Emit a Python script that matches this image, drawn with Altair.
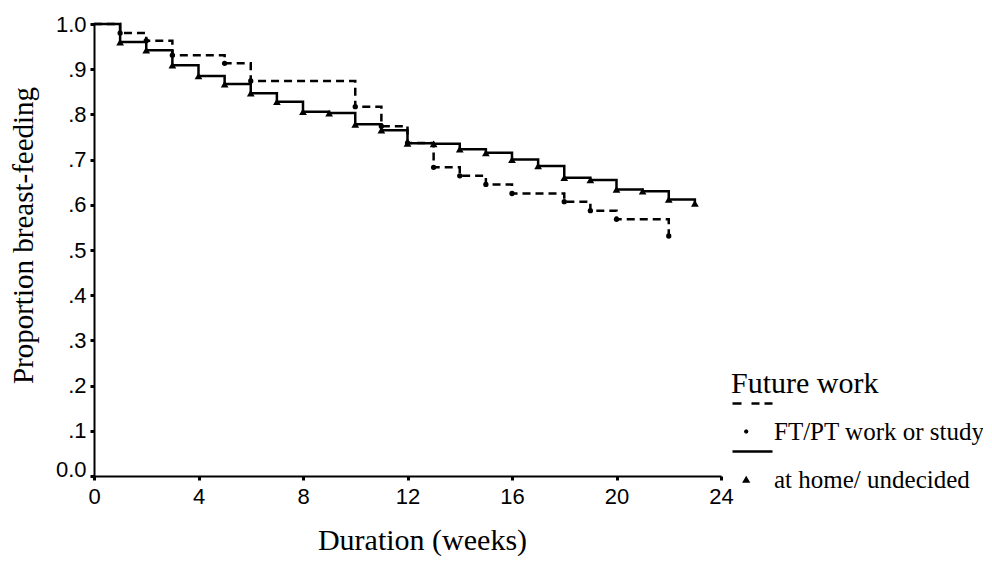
import altair as alt
import pandas as pd

# ---- data ----
groups = ["FT/PT work or study", "at home/ undecided"]

weeks_home = [0, 1, 2, 3, 4, 5, 6, 7, 8, 9, 10, 11, 12, 13, 14, 15, 16, 17, 18, 19, 20, 21, 22, 23]
surv_home = [1.0, 0.960, 0.942, 0.909, 0.885, 0.867, 0.847, 0.828, 0.806, 0.803, 0.778, 0.765,
             0.736, 0.735, 0.723, 0.715, 0.700, 0.686, 0.660, 0.655, 0.634, 0.630, 0.612, 0.603]

weeks_work = [0, 1, 2, 3, 5, 6, 10, 11, 12, 13, 14, 15, 16, 18, 19, 20, 22]
surv_work = [1.0, 0.980, 0.963, 0.931, 0.913, 0.874, 0.817, 0.774, 0.737, 0.683, 0.664, 0.645,
             0.625, 0.607, 0.587, 0.568, 0.531]

x_ticks = [0, 4, 8, 12, 16, 20, 24]
y_ticks = [0.0, 0.1, 0.2, 0.3, 0.4, 0.5, 0.6, 0.7, 0.8, 0.9, 1.0]
y_tick_labels = ["0.0", ".1", ".2", ".3", ".4", ".5", ".6", ".7", ".8", ".9", "1.0"]

df = pd.concat([
    pd.DataFrame({"week": weeks_work, "prop": surv_work, "group": groups[0]}),
    pd.DataFrame({"week": weeks_home, "prop": surv_home, "group": groups[1]}),
], ignore_index=True)

label_array = "[" + ",".join("'%s'" % s for s in y_tick_labels) + "]"

SERIF = "Liberation Serif"
SANS = "Liberation Sans"

x_axis = alt.Axis(
    values=x_ticks, labelFont=SANS, labelFontSize=22, labelColor="black", labelPadding=6,
    labelFlush=False, tickSize=4, tickWidth=3, tickColor="black", domainColor="black",
    domainWidth=2, grid=False, title="Duration (weeks)", titleFont=SERIF, titleFontSize=30,
    titleFontWeight="normal", titleColor="black", titleX=328, titleY=73,
    titleBaseline="alphabetic",
)
y_axis = alt.Axis(
    values=y_ticks, labelExpr=label_array + "[round(datum.value*10)]",
    labelFont=SANS, labelFontSize=22, labelColor="black", labelPadding=4,
    labelBaseline={"condition": {"test": "datum.value == 0", "value": "alphabetic"}, "value": "middle"},
    tickSize=4, tickWidth=3, tickColor="black", domainColor="black", domainWidth=2, grid=False,
    title="Proportion breast-feeding", titleFont=SERIF, titleFontSize=29, titleFontWeight="normal",
    titleColor="black", titleAngle=270, titleX=-62, titleY=211, titleBaseline="alphabetic",
)

# legend symbols: a (dashed / solid) bar above a small marker; unit box scaled by 20px
dot_path = ("M-1,-1.46L-0.55,-1.46L-0.55,-1.34L-1,-1.34Z"
            "M-0.05,-1.46L0.35,-1.46L0.35,-1.34L-0.05,-1.34Z"
            "M0.6,-1.46L1,-1.46L1,-1.34L0.6,-1.34Z"
            "M-0.205,0L-0.235,0.075L-0.315,0.11L-0.395,0.075L-0.425,0"
            "L-0.395,-0.075L-0.315,-0.11L-0.235,-0.075Z")
tri_path = ("M-1,-1.46L1,-1.46L1,-1.34L-1,-1.34Z"
            "M-0.52,0.16L-0.11,0.16L-0.315,-0.19Z")

legend = alt.Legend(
    title="Future work", orient="none", legendX=637, legendY=345, padding=0,
    titleFont=SERIF, titleFontSize=30, titleFontWeight="normal", titleColor="black", titlePadding=11,
    labelFont=SERIF, labelFontSize=25, labelColor="black", labelOffset=0, labelLimit=400,
    symbolSize=1600, symbolStrokeWidth=2.5, symbolStrokeColor="black", symbolFillColor="black",
    symbolOpacity=1, rowPadding=0,
)

x_enc = alt.X("week:Q", scale=alt.Scale(domain=[0, 24], nice=False), axis=x_axis)
y_enc = alt.Y("prop:Q", scale=alt.Scale(domain=[0, 1], nice=False), axis=y_axis)

base = alt.Chart(df)
work = base.transform_filter("datum.group == '%s'" % groups[0])
home = base.transform_filter("datum.group == '%s'" % groups[1])

line_work = work.mark_line(interpolate="step-after", strokeWidth=2.5, color="black",
                           strokeDash=[8, 5]).encode(x=x_enc, y=y_enc)
line_home = home.mark_line(interpolate="step-after", strokeWidth=2.5,
                           color="black").encode(x=x_enc, y=y_enc)

dots = work.transform_filter("datum.week > 0").mark_point(
    shape="circle", filled=True, color="black", opacity=1, size=28).encode(x=x_enc, y=y_enc)
tris = home.transform_filter("datum.week > 0").mark_point(
    shape="triangle-up", filled=True, color="black", opacity=1, size=60).encode(x=x_enc, y=y_enc)

# legend-carrying layer: zero-size points, so only the legend shows its symbols
legend_layer = base.mark_point(
    filled=True, fill="black", stroke="black", strokeWidth=2.5, opacity=1, size=0
).encode(
    x=x_enc, y=y_enc,
    shape=alt.Shape("group:N", scale=alt.Scale(domain=groups, range=[dot_path, tri_path]),
                    legend=legend),
)

chart = alt.layer(line_work, line_home, dots, tris, legend_layer).properties(
    width=627, height=452,
    autosize=alt.AutoSizeParams(type="none"),
    padding={"left": 86, "top": 16, "right": 262, "bottom": 80},
    background="white",
).configure_view(stroke=None)

chart.save("out.html", embed_options={"renderer": "svg", "actions": False})
